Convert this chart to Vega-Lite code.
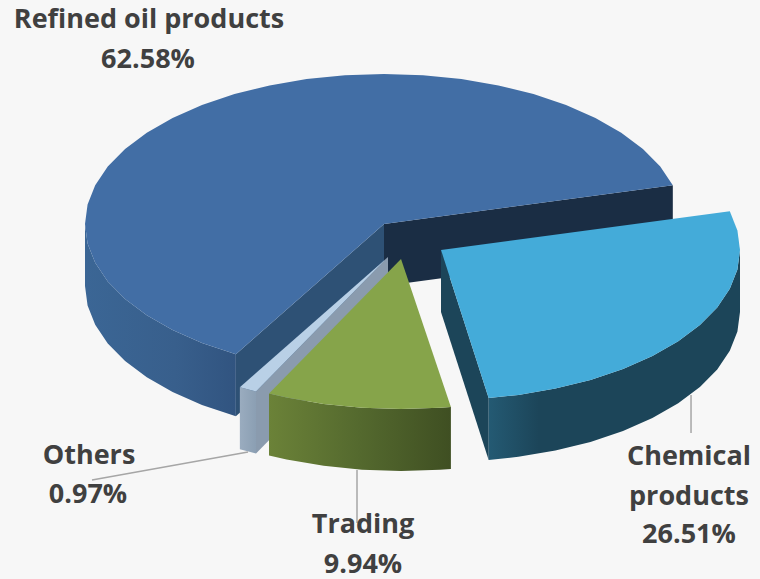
{
"$schema":"https://vega.github.io/schema/vega-lite/v6.json",
"autosize":{"type":"fit","contains":"padding"},
"width":760,"height":579,"padding":0,
"background":"#f7f7f7",
"config":{"view":{"stroke":null}},
"datasets":{
"outlines":[
{"face":"refined_rim","step":1,"x":-100,"y":0},{"face":"refined_rim","step":2,"x":-99.14,"y":-13.05},{"face":"refined_rim","step":3,"x":-96.59,"y":-25.88},{"face":"refined_rim","step":4,"x":-92.39,"y":-38.27},{"face":"refined_rim","step":5,"x":-86.6,"y":-50},{"face":"refined_rim","step":6,"x":-79.34,"y":-60.88},{"face":"refined_rim","step":7,"x":-70.71,"y":-70.71},{"face":"refined_rim","step":8,"x":-60.88,"y":-79.34},{"face":"refined_rim","step":9,"x":-49.55,"y":-86.86},
{"face":"refined_rim","step":10,"x":-49.55,"y":-128.19},{"face":"refined_rim","step":11,"x":-60.88,"y":-120.67},{"face":"refined_rim","step":12,"x":-70.71,"y":-112.04},{"face":"refined_rim","step":13,"x":-79.34,"y":-102.21},{"face":"refined_rim","step":14,"x":-86.6,"y":-91.33},{"face":"refined_rim","step":15,"x":-92.39,"y":-79.6},{"face":"refined_rim","step":16,"x":-96.59,"y":-67.21},{"face":"refined_rim","step":17,"x":-99.14,"y":-54.38},{"face":"refined_rim","step":18,"x":-100,"y":-41.33},
{"face":"refined_cut_left","step":1,"x":0,"y":0},{"face":"refined_cut_left","step":2,"x":-49.55,"y":-86.86},{"face":"refined_cut_left","step":3,"x":-49.55,"y":-128.19},{"face":"refined_cut_left","step":4,"x":0,"y":-41.33},
{"face":"refined_cut_right","step":1,"x":0,"y":0},{"face":"refined_cut_right","step":2,"x":96.59,"y":25.88},{"face":"refined_cut_right","step":3,"x":96.59,"y":-15.45},{"face":"refined_cut_right","step":4,"x":0,"y":-41.33},
{"face":"refined_top","step":1,"x":0,"y":0},{"face":"refined_top","step":2,"x":96.59,"y":25.88},{"face":"refined_top","step":3,"x":92.39,"y":38.27},{"face":"refined_top","step":4,"x":86.6,"y":50},{"face":"refined_top","step":5,"x":79.34,"y":60.88},{"face":"refined_top","step":6,"x":70.71,"y":70.71},{"face":"refined_top","step":7,"x":60.88,"y":79.34},{"face":"refined_top","step":8,"x":50,"y":86.6},{"face":"refined_top","step":9,"x":38.27,"y":92.39},{"face":"refined_top","step":10,"x":25.88,"y":96.59},{"face":"refined_top","step":11,"x":13.05,"y":99.14},{"face":"refined_top","step":12,"x":0,"y":100},{"face":"refined_top","step":13,"x":-13.05,"y":99.14},{"face":"refined_top","step":14,"x":-25.88,"y":96.59},{"face":"refined_top","step":15,"x":-38.27,"y":92.39},{"face":"refined_top","step":16,"x":-50,"y":86.6},{"face":"refined_top","step":17,"x":-60.88,"y":79.34},{"face":"refined_top","step":18,"x":-70.71,"y":70.71},{"face":"refined_top","step":19,"x":-79.34,"y":60.88},{"face":"refined_top","step":20,"x":-86.6,"y":50},{"face":"refined_top","step":21,"x":-92.39,"y":38.27},{"face":"refined_top","step":22,"x":-96.59,"y":25.88},{"face":"refined_top","step":23,"x":-99.14,"y":13.05},{"face":"refined_top","step":24,"x":-100,"y":0},{"face":"refined_top","step":25,"x":-99.14,"y":-13.05},{"face":"refined_top","step":26,"x":-96.59,"y":-25.88},{"face":"refined_top","step":27,"x":-92.39,"y":-38.27},{"face":"refined_top","step":28,"x":-86.6,"y":-50},{"face":"refined_top","step":29,"x":-79.34,"y":-60.88},{"face":"refined_top","step":30,"x":-70.71,"y":-70.71},{"face":"refined_top","step":31,"x":-60.88,"y":-79.34},{"face":"refined_top","step":32,"x":-49.55,"y":-86.86},
{"face":"others_cut","step":1,"x":1.34,"y":-22},{"face":"others_cut","step":2,"x":-42.81,"y":-111.73},{"face":"others_cut","step":3,"x":-42.81,"y":-153.06},{"face":"others_cut","step":4,"x":1.34,"y":-63.33},
{"face":"others_rim","step":1,"x":-48.21,"y":-108.86},{"face":"others_rim","step":2,"x":-42.81,"y":-111.73},{"face":"others_rim","step":3,"x":-42.81,"y":-153.06},{"face":"others_rim","step":4,"x":-48.21,"y":-150.19},
{"face":"others_top","step":1,"x":1.34,"y":-22},{"face":"others_top","step":2,"x":-48.21,"y":-108.86},{"face":"others_top","step":3,"x":-42.81,"y":-111.73},
{"face":"trading_rim","step":1,"x":-38.46,"y":-113.06},{"face":"trading_rim","step":2,"x":-32.58,"y":-115.72},{"face":"trading_rim","step":3,"x":-20.19,"y":-119.92},{"face":"trading_rim","step":4,"x":-7.36,"y":-122.47},{"face":"trading_rim","step":5,"x":5.69,"y":-123.33},{"face":"trading_rim","step":6,"x":18.74,"y":-122.47},{"face":"trading_rim","step":7,"x":22.37,"y":-121.93},
{"face":"trading_rim","step":8,"x":22.37,"y":-163.26},{"face":"trading_rim","step":9,"x":18.74,"y":-163.8},{"face":"trading_rim","step":10,"x":5.69,"y":-164.66},{"face":"trading_rim","step":11,"x":-7.36,"y":-163.8},{"face":"trading_rim","step":12,"x":-20.19,"y":-161.25},{"face":"trading_rim","step":13,"x":-32.58,"y":-157.05},{"face":"trading_rim","step":14,"x":-38.46,"y":-154.39},
{"face":"trading_top","step":1,"x":5.69,"y":-23.33},{"face":"trading_top","step":2,"x":-38.46,"y":-113.06},{"face":"trading_top","step":3,"x":-32.58,"y":-115.72},{"face":"trading_top","step":4,"x":-20.19,"y":-119.92},{"face":"trading_top","step":5,"x":-7.36,"y":-122.47},{"face":"trading_top","step":6,"x":5.69,"y":-123.33},{"face":"trading_top","step":7,"x":18.74,"y":-122.47},{"face":"trading_top","step":8,"x":22.37,"y":-121.93},
{"face":"chemical_cut","step":1,"x":19.06,"y":-17.33},{"face":"chemical_cut","step":2,"x":35,"y":-115.93},{"face":"chemical_cut","step":3,"x":35,"y":-157.26},{"face":"chemical_cut","step":4,"x":19.06,"y":-58.66},
{"face":"chemical_rim","step":1,"x":35,"y":-115.93},{"face":"chemical_rim","step":2,"x":44.94,"y":-113.92},{"face":"chemical_rim","step":3,"x":57.33,"y":-109.72},{"face":"chemical_rim","step":4,"x":69.06,"y":-103.93},{"face":"chemical_rim","step":5,"x":79.94,"y":-96.67},{"face":"chemical_rim","step":6,"x":89.77,"y":-88.04},{"face":"chemical_rim","step":7,"x":98.4,"y":-78.21},{"face":"chemical_rim","step":8,"x":105.66,"y":-67.33},{"face":"chemical_rim","step":9,"x":111.45,"y":-55.6},{"face":"chemical_rim","step":10,"x":115.65,"y":-43.21},{"face":"chemical_rim","step":11,"x":118.2,"y":-30.38},{"face":"chemical_rim","step":12,"x":119.06,"y":-17.33},
{"face":"chemical_rim","step":13,"x":119.06,"y":-58.66},{"face":"chemical_rim","step":14,"x":118.2,"y":-71.71},{"face":"chemical_rim","step":15,"x":115.65,"y":-84.54},{"face":"chemical_rim","step":16,"x":111.45,"y":-96.93},{"face":"chemical_rim","step":17,"x":105.66,"y":-108.66},{"face":"chemical_rim","step":18,"x":98.4,"y":-119.54},{"face":"chemical_rim","step":19,"x":89.77,"y":-129.37},{"face":"chemical_rim","step":20,"x":79.94,"y":-138},{"face":"chemical_rim","step":21,"x":69.06,"y":-145.26},{"face":"chemical_rim","step":22,"x":57.33,"y":-151.05},{"face":"chemical_rim","step":23,"x":44.94,"y":-155.25},{"face":"chemical_rim","step":24,"x":35,"y":-157.26},
{"face":"chemical_top","step":1,"x":19.06,"y":-17.33},{"face":"chemical_top","step":2,"x":35,"y":-115.93},{"face":"chemical_top","step":3,"x":44.94,"y":-113.92},{"face":"chemical_top","step":4,"x":57.33,"y":-109.72},{"face":"chemical_top","step":5,"x":69.06,"y":-103.93},{"face":"chemical_top","step":6,"x":79.94,"y":-96.67},{"face":"chemical_top","step":7,"x":89.77,"y":-88.04},{"face":"chemical_top","step":8,"x":98.4,"y":-78.21},{"face":"chemical_top","step":9,"x":105.66,"y":-67.33},{"face":"chemical_top","step":10,"x":111.45,"y":-55.6},{"face":"chemical_top","step":11,"x":115.65,"y":-43.21},{"face":"chemical_top","step":12,"x":118.2,"y":-30.38},{"face":"chemical_top","step":13,"x":119.06,"y":-17.33},{"face":"chemical_top","step":14,"x":118.2,"y":-4.28},{"face":"chemical_top","step":15,"x":115.65,"y":8.55}
],
"leaders":[
{"part":"Others","step":1,"x":-45.48,"y":-152},{"part":"Others","step":2,"x":-97.66,"y":-170.67},
{"part":"Trading","step":1,"x":-9.03,"y":-164},{"part":"Trading","step":2,"x":-9.03,"y":-199.33},
{"part":"Chemical products","step":1,"x":102.68,"y":-114},{"part":"Chemical products","step":2,"x":102.68,"y":-139.33}
],
"labels":[
{"text":"Refined oil products","x":-78.6,"y":130.67},{"text":"62.58%","x":-78.93,"y":104},
{"text":"Others","x":-98.66,"y":-160},{"text":"0.97%","x":-99,"y":-186},
{"text":"Trading","x":-7.02,"y":-206},{"text":"9.94%","x":-7.02,"y":-232.67},
{"text":"Chemical","x":102,"y":-160.67},{"text":"products","x":102,"y":-187.33},{"text":"26.51%","x":102,"y":-212.67}
]
},
"encoding":{
"x":{"field":"x","type":"quantitative","axis":null,"scale":{"domain":[-128.43,125.75],"nice":false,"zero":false}},
"y":{"field":"y","type":"quantitative","axis":null,"scale":{"domain":[-236.67,149.33],"nice":false,"zero":false}},
"order":{"field":"step","type":"quantitative"}
},
"layer":[
{"data":{"name":"outlines"},"transform":[{"filter":"datum.face=='refined_rim'"}],"encoding":{},
 "mark":{"type":"line","stroke":null,"fill":{"gradient":"linear","x1":0,"y1":0,"x2":1,"y2":0,"stops":[{"offset":0,"color":"#3b6695"},{"offset":0.6,"color":"#385f8c"},{"offset":1,"color":"#315480"}]}}},
{"data":{"name":"outlines"},"transform":[{"filter":"datum.face=='refined_cut_left'"}],"encoding":{},
 "mark":{"type":"line","stroke":null,"fill":"#2e5175"}},
{"data":{"name":"outlines"},"transform":[{"filter":"datum.face=='refined_cut_right'"}],"encoding":{},
 "mark":{"type":"line","stroke":null,"fill":"#1a2d44"}},
{"data":{"name":"outlines"},"transform":[{"filter":"datum.face=='refined_top'"}],"encoding":{},
 "mark":{"type":"line","stroke":null,"fill":"#426ea5"}},
{"data":{"name":"outlines"},"transform":[{"filter":"datum.face=='others_cut'"}],"encoding":{},
 "mark":{"type":"line","stroke":null,"fill":"#8a9bae"}},
{"data":{"name":"outlines"},"transform":[{"filter":"datum.face=='others_rim'"}],"encoding":{},
 "mark":{"type":"line","stroke":null,"fill":{"gradient":"linear","x1":0,"y1":0,"x2":1,"y2":0,"stops":[{"offset":0,"color":"#9aacbf"},{"offset":1,"color":"#8b9fb3"}]}}},
{"data":{"name":"outlines"},"transform":[{"filter":"datum.face=='others_top'"}],"encoding":{},
 "mark":{"type":"line","stroke":null,"fill":"#b9d0e6"}},
{"data":{"name":"outlines"},"transform":[{"filter":"datum.face=='trading_rim'"}],"encoding":{},
 "mark":{"type":"line","stroke":null,"fill":{"gradient":"linear","x1":0,"y1":0,"x2":1,"y2":0,"stops":[{"offset":0,"color":"#6b8238"},{"offset":0.5,"color":"#54692e"},{"offset":1,"color":"#3f4f22"}]}}},
{"data":{"name":"outlines"},"transform":[{"filter":"datum.face=='trading_top'"}],"encoding":{},
 "mark":{"type":"line","stroke":null,"fill":"#86a44a"}},
{"data":{"name":"outlines"},"transform":[{"filter":"datum.face=='chemical_cut'"}],"encoding":{},
 "mark":{"type":"line","stroke":null,"fill":"#1c4559"}},
{"data":{"name":"outlines"},"transform":[{"filter":"datum.face=='chemical_rim'"}],"encoding":{},
 "mark":{"type":"line","stroke":null,"fill":{"gradient":"linear","x1":0,"y1":0,"x2":1,"y2":0,"stops":[{"offset":0,"color":"#245a73"},{"offset":0.2,"color":"#1c4559"},{"offset":1,"color":"#1c4559"}]}}},
{"data":{"name":"outlines"},"transform":[{"filter":"datum.face=='chemical_top'"}],"encoding":{},
 "mark":{"type":"line","stroke":null,"fill":"#44abd9"}},
{"data":{"name":"leaders"},
 "mark":{"type":"line","stroke":"#a6a6a6","strokeWidth":1.5},
 "encoding":{"detail":{"field":"part"}}},
{"data":{"name":"labels"},
 "mark":{"type":"text","font":"Open Sans","fontWeight":"bold","fontSize":27,"fill":"#404040","align":"center","baseline":"alphabetic"},
 "encoding":{"text":{"field":"text"},"order":null}}
]
}
